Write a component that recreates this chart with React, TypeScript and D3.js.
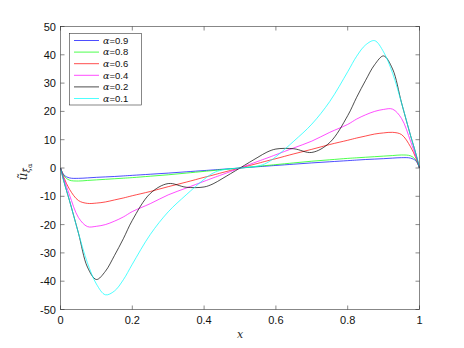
import React from "react";
import * as d3 from "d3";

// sample positions along x
const xs = [0, 0.01, 0.025, 0.05, 0.075, 0.1, 0.125, 0.15, 0.175, 0.2, 0.25, 0.3, 0.35, 0.4, 0.425, 0.45, 0.5,
  0.55, 0.575, 0.6, 0.65, 0.7, 0.75, 0.8, 0.825, 0.85, 0.875, 0.9, 0.925, 0.95, 0.975, 0.99, 1];

const a09 = [0, -2.5, -3.5, -3.65, -3.5, -3.3, -3.15, -3.0, -2.8, -2.6, -2.2, -1.8, -1.35, -0.9, -0.68, -0.45, 0,
  0.45, 0.68, 0.9, 1.35, 1.8, 2.2, 2.6, 2.8, 3.0, 3.15, 3.3, 3.5, 3.65, 3.5, 2.5, 0];
const a08 = [0, -2.8, -4.3, -4.6, -4.4, -4.2, -4.0, -3.8, -3.6, -3.4, -2.9, -2.4, -1.8, -1.2, -0.9, -0.6, 0,
  0.6, 0.9, 1.2, 1.8, 2.4, 2.9, 3.4, 3.6, 3.8, 4.0, 4.2, 4.4, 4.6, 4.3, 2.8, 0];
const a06 = [0, -3.5, -7.5, -11.5, -12.5, -12.4, -12.0, -11.3, -10.6, -9.8, -8.3, -6.6, -5.0, -3.3, -2.5, -1.65, 0,
  1.65, 2.5, 3.3, 5.0, 6.6, 8.3, 9.8, 10.6, 11.3, 12.0, 12.4, 12.6, 11.8, 7.5, 3.5, 0];
const a04 = [0, -4, -9.5, -17.5, -20.7, -20.6, -20.0, -18.8, -17.3, -15.4, -12.6, -9.5, -7.1, -4.7, -3.5, -2.35, 0,
  2.35, 3.5, 4.7, 7.1, 9.5, 12.6, 15.4, 17.3, 18.8, 20.0, 20.7, 20.8, 17.5, 9.5, 4, 0];
const a02 = [0, -5, -11.5, -23, -35, -39.4, -36.5, -31, -25, -18.5, -9, -5.5, -6.8, -6.7, -5.6, -3.8, 0,
  3.8, 5.6, 6.7, 6.8, 5.5, 9, 18.5, 25, 31, 36.5, 39.6, 35, 23, 11.5, 5, 0];
const a01 = [0, -5, -11.5, -23, -33.5, -41, -44.8, -43.5, -39.5, -34, -23.5, -15.5, -9.5, -4, -1.8, -0.7, 0,
  0.7, 1.8, 4, 9.5, 15.5, 23.5, 34, 39.5, 43.5, 45, 41, 33.5, 23, 11.5, 5, 0];

const seriesNames = ["α=0.9", "α=0.8", "α=0.6", "α=0.4", "α=0.2", "α=0.1"];
const seriesValues = [a09, a08, a06, a04, a02, a01];
const seriesColors = ["#0000ff", "#00ff00", "#ff0000", "#ff00ff", "#000000", "#00ffff"];

const xTicks = [0, 0.2, 0.4, 0.6, 0.8, 1];
const yTicks = [-50, -40, -30, -20, -10, 0, 10, 20, 30, 40, 50];

const W = 464, H = 348;
const left = 60.5, right = 419.5, top = 26.5, bottom = 309.5;
const axisColor = "#262626";
const font = "'Liberation Sans', Arial, sans-serif";

export default function App() {
  const x = d3.scaleLinear().domain([0, 1]).range([left, right]);
  const y = d3.scaleLinear().domain([-50, 50]).range([bottom, top]);

  const line = d3.line<number>()
    .x((_, i) => x(xs[i]))
    .y(v => y(v))
    .curve(d3.curveCatmullRom.alpha(0.5));

  const tick = 4;

  // legend box
  const lg = { x: 69.5, y: 33.5, w: 72, h: 71.5 };
  const rowH = 11.6;

  return (
    <svg width={W} height={H} style={{ position: "absolute", left: 0, top: 0, background: "#fff" }}>
      <defs>
        <clipPath id="plotclip">
          <rect x={left} y={top} width={right - left} height={bottom - top} />
        </clipPath>
      </defs>
      <rect x={0} y={0} width={W} height={H} fill="#fff" />
      <g clipPath="url(#plotclip)">
        {seriesValues.map((vals, k) => (
          <path key={k} d={line(vals) || ""} fill="none" stroke={seriesColors[k]} strokeWidth={0.7} />
        ))}
      </g>

      {/* box */}
      <rect x={left} y={top} width={right - left} height={bottom - top} fill="none" stroke={axisColor} strokeWidth={0.55} />

      {/* x ticks */}
      {xTicks.map(t => (
        <g key={"x" + t}>
          <line x1={x(t)} x2={x(t)} y1={bottom} y2={bottom - tick} stroke={axisColor} strokeWidth={0.55} />
          <line x1={x(t)} x2={x(t)} y1={top} y2={top + tick} stroke={axisColor} strokeWidth={0.55} />
          <text x={x(t)} y={bottom + 14} textAnchor="middle" fontFamily={font} fontSize={11} fill="#111">
            {String(t)}
          </text>
        </g>
      ))}

      {/* y ticks */}
      {yTicks.map(t => (
        <g key={"y" + t}>
          <line x1={left} x2={left + tick} y1={y(t)} y2={y(t)} stroke={axisColor} strokeWidth={0.55} />
          <line x1={right} x2={right - tick} y1={y(t)} y2={y(t)} stroke={axisColor} strokeWidth={0.55} />
          <text x={left - 4.5} y={y(t) + 4} textAnchor="end" fontFamily={font} fontSize={11} fill="#111">
            {String(t)}
          </text>
        </g>
      ))}

      {/* axis labels */}
      <text x={(left + right) / 2} y={338} textAnchor="middle" fontFamily="'DejaVu Serif', serif" fontStyle="italic" fontSize={11} fill={axisColor}>
        x
      </text>
      <text transform="translate(27,172) rotate(-90)" textAnchor="middle" fontFamily="'DejaVu Serif', serif" fill={axisColor}>
        <tspan fontSize={12} fontStyle="italic">ũ</tspan>
        <tspan fontSize={8.5} fontStyle="italic" dy={3}>ξ̃</tspan>
        <tspan fontSize={6.5} dy={2}>α</tspan>
      </text>

      {/* legend */}
      <rect x={lg.x} y={lg.y} width={lg.w} height={lg.h} fill="#fff" stroke={axisColor} strokeWidth={0.55} />
      {seriesNames.map((name, k) => {
        const cy = lg.y + 7 + rowH * k;
        return (
          <g key={name}>
            <line x1={74} x2={99} y1={cy} y2={cy} stroke={seriesColors[k]} strokeWidth={0.7} />
            <text x={103} y={cy + 3.3} fontFamily={font} fontSize={9.5} fill="#111">
              <tspan fontFamily="'DejaVu Serif', serif" fontStyle="italic">α</tspan>
              {name.slice(1)}
            </text>
          </g>
        );
      })}
    </svg>
  );
}
